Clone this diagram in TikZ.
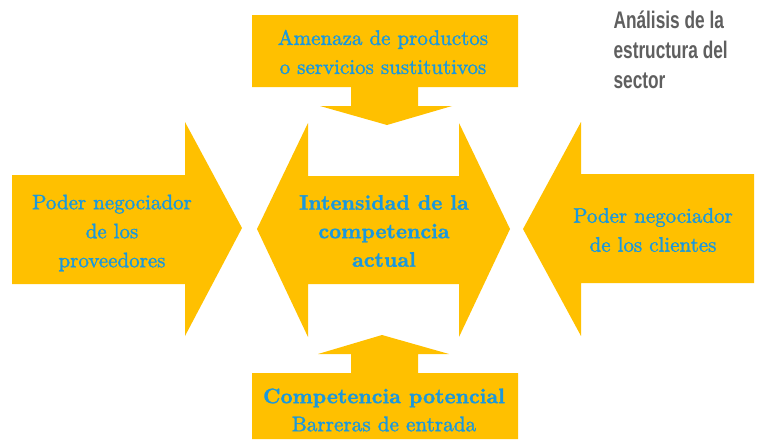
\documentclass[tikz,border=0pt]{standalone}
\usepackage{fontspec}
\newfontfamily\titlefont[FakeStretch=0.72]{Liberation Sans}
\newfontfamily\medio[FakeBold=1.4]{lmroman10-regular.otf}
\newfontfamily\fuerte[FakeBold=1.4]{lmroman10-bold.otf}
\definecolor{flecha}{RGB}{255,192,0}
\definecolor{azul}{RGB}{25,152,222}
\definecolor{gris}{RGB}{95,95,95}

\begin{document}
\begin{tikzpicture}[x=1pt,y=-1pt,
  texto/.style={text=azul, align=center, font=\medio\fontsize{21}{29}\selectfont},
  textob/.style={text=azul, align=center, font=\fuerte\fontsize{21}{28.5}\selectfont}]
\useasboundingbox (0,0) rectangle (757,439);

% flechas
\fill[flecha] (252,15) -- (518,15) -- (518,87) -- (418,87) -- (418,106) -- (452,106)
  -- (387,125) -- (320,106) -- (351,106) -- (351,87) -- (252,87) -- cycle;
\fill[flecha] (12,175) -- (185,175) -- (185,122) -- (242,228) -- (185,336)
  -- (185,284) -- (12,284) -- cycle;
\fill[flecha] (257,229) -- (308,123) -- (308,176) -- (459,176) -- (459,123) -- (510,229)
  -- (459,337) -- (459,284) -- (308,284) -- (308,337) -- cycle;
\fill[flecha] (523,229) -- (581,122) -- (581,174) -- (754,174) -- (754,283)
  -- (581,283) -- (581,336) -- cycle;
\fill[flecha] (252,373) -- (351,373) -- (351,354) -- (318,354) -- (382,335) -- (449,354)
  -- (418,354) -- (418,373) -- (518,373) -- (518,439) -- (252,439) -- cycle;

% textos
\node[texto] (sustitutos) at (383,52) {Amenaza de productos\\o servicios sustitutivos};
\node[texto] (proveedores) at (112,233) {Poder negociador\\de los\\proveedores};
\node[textob] (rivalidad) at (384,231) {Intensidad de la\\competencia\\actual};
\node[texto] (clientes) at (653,230) {Poder negociador\\de los clientes};
\node[texto, font=\fuerte\fontsize{21}{28}\selectfont] (entrantes) at (384,410)
  {Competencia potencial\\{\medio\fontsize{21.2}{28}\selectfont Barreras de entrada}};

\node[anchor=north west, align=left, text=gris,
  font=\titlefont\bfseries\fontsize{24}{30}\selectfont] (titulo) at (610,7)
  {Análisis de la\\estructura del\\sector};

\end{tikzpicture}
\end{document}
